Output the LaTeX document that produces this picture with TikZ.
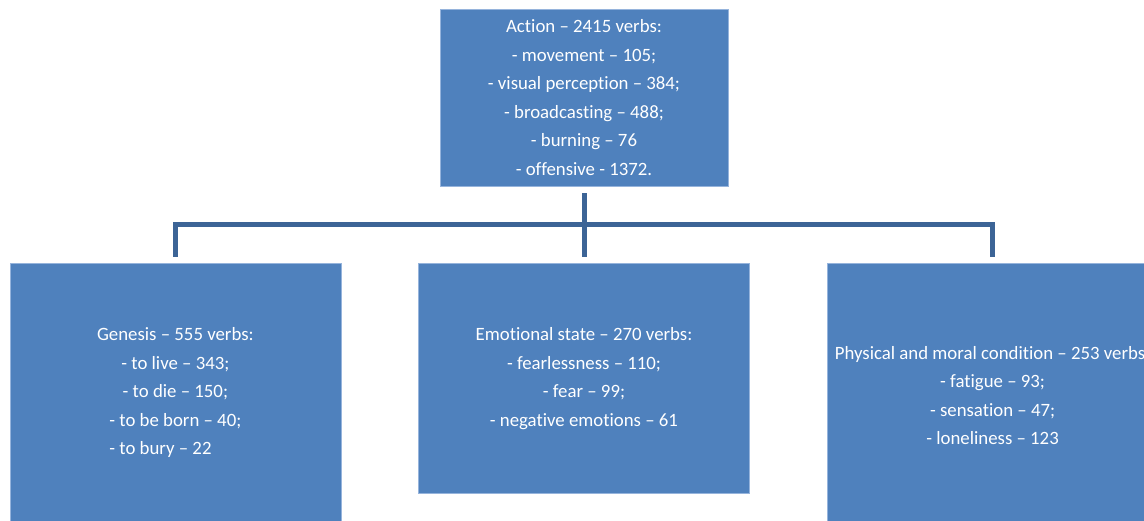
\documentclass[tikz,border=0pt]{standalone}
\usepackage{fontspec}
\setmainfont{Carlito}[Ligatures={NoCommon}]
\usepackage{calc}
\usetikzlibrary{positioning}
\definecolor{boxblue}{RGB}{79,129,189}
\definecolor{boxedge}{RGB}{150,180,220}
\definecolor{linkblue}{RGB}{60,100,150}

\begin{document}
\begin{tikzpicture}[x=1pt,y=1pt,
  cat node/.style={fill=boxblue,draw=boxedge,line width=0.6pt,text=white,
    font=\fontsize{18.8}{28.5}\selectfont,align=center,inner sep=0pt,minimum width=331pt},
  link/.style={draw=linkblue,line width=5pt}]

  \clip (0,0) rectangle (1144,-520);

  \node[cat node,minimum width=288pt,minimum height=177pt] (1) at (584,-97.5)
    {Action – 2415 verbs:\\- movement – 105;\\- visual perception – 384;\\
     - broadcasting – 488;\\- burning – 76\\- offensive - 1372.};
  \node[cat node,minimum height=230pt,below=77pt of 1] (3)
    {Emotional state – 270 verbs:\\- fearlessness – 110;\\- fear – 99;\\- negative emotions – 61};
  \node[cat node,minimum height=258pt,anchor=north east] (2) at ([xshift=-77pt]3.north west)
    {Genesis – 555 verbs:\\- to live – 343;\\- to die – 150;\\- to be born – 40;\\
     \makebox[\widthof{- to be born – 40;}][l]{- to bury – 22}};
  \node[cat node,minimum height=264pt,anchor=north west] (4) at ([xshift=77pt]3.north east)
    {Physical and moral condition – 253 verbs:\\- fatigue – 93;\\- sensation – 47;\\- loneliness – 123};

  \coordinate (bar) at (584,-224);

  \draw[link,shorten <=7pt,shorten >=6pt] (1) -- (3);
  \draw[link,shorten >=6pt] (bar) -| (2);
  \draw[link,shorten >=6pt] (bar) -| (4);
\end{tikzpicture}
\end{document}
